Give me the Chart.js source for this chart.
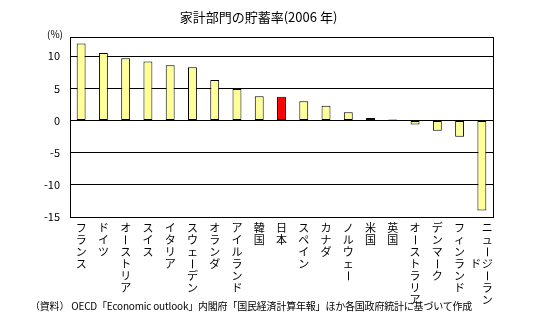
<!DOCTYPE html>
<html lang="ja">
<head>
<meta charset="utf-8">
<title>家計部門の貯蓄率</title>
<script src="https://cdn.jsdelivr.net/npm/chart.js@4.4.1/dist/chart.umd.min.js"></script>
<style>
  html, body { margin: 0; padding: 0; background: #fff; }
  #wrap { position: relative; width: 537px; height: 328px; font-family: "Noto Sans CJK JP", sans-serif; color: #000; }
  #title { position: absolute; left: 0; width: 517px; top: 8px; text-align: center; font-size: 13px; line-height: 18px; }
  #note { position: absolute; left: 30px; top: 299px; font-size: 10px; line-height: 14px; white-space: nowrap; letter-spacing: -0.2px; }
  canvas { position: absolute; left: 0; top: 0; }
</style>
</head>
<body>
<div id="wrap">
  <canvas id="savingChart" width="537" height="328"></canvas>
  <div id="title">家計部門の貯蓄率(2006 年)</div>
  <div id="note">（資料） OECD「Economic outlook」内閣府「国民経済計算年報」ほか各国政府統計に基づいて作成</div>
</div>
<script>
const countries = ['フランス', 'ドイツ', 'オーストリア', 'スイス', 'イタリア', 'スウェーデン', 'オランダ', 'アイルランド', '韓国', '日本', 'スペイン', 'カナダ', 'ノルウェー', '米国', '英国', 'オーストラリア', 'デンマーク', 'フィンランド', 'ニュージーランド'];
const savingRate = [12.0, 10.5, 9.7, 9.2, 8.6, 8.3, 6.3, 4.9, 3.8, 3.7, 3.0, 2.3, 1.3, 0.4, 0.15, -0.6, -1.6, -2.5, -14.0];
const yTicks = [-15, -10, -5, 0, 5, 10];
const yMin = -15;
const yMax = 13;
const highlight = '日本';

const barColors = countries.map(c => c === highlight ? '#ff0000' : '#ffff99');

// vertical category labels, one character per row; long names wrap into a second column
const verticalLabels = {
  id: 'verticalLabels',
  afterDraw(chart) {
    const { ctx, chartArea, scales: { x, y } } = chart;
    ctx.save();
    ctx.fillStyle = '#000';
    ctx.font = '11px "Noto Sans CJK JP"';
    ctx.textAlign = 'center';
    ctx.textBaseline = 'middle';
    const top = 228;
    const step = 12;
    const maxRows = 7;
    const drawChar = (ch, cx, cy) => {
      if (ch === 'ー') {
        ctx.save();
        ctx.translate(cx, cy);
        ctx.rotate(Math.PI / 2);
        ctx.fillText(ch, 0, 0);
        ctx.restore();
      } else {
        ctx.fillText(ch, cx, cy);
      }
    };
    countries.forEach((name, i) => {
      const cx = x.getPixelForValue(i);
      const chars = Array.from(name);
      if (chars.length <= maxRows) {
        chars.forEach((ch, k) => drawChar(ch, cx, top + k * step));
      } else {
        const first = chars.slice(0, maxRows);
        const rest = chars.slice(maxRows);
        first.forEach((ch, k) => drawChar(ch, cx + 5.5, top + k * step));
        const offset = Math.floor((maxRows - rest.length) / 2);
        rest.forEach((ch, k) => drawChar(ch, cx - 6, top + (offset + k) * step));
      }
    });

    // unit label and right edge of the frame
    ctx.textAlign = 'right';
    ctx.font = '10px "Noto Sans CJK JP"';
    ctx.fillText('(%)', 63, y.getPixelForValue(yMax) - 3);
    ctx.strokeStyle = '#000';
    ctx.lineWidth = 1;
    ctx.beginPath();
    ctx.moveTo(Math.round(chartArea.right) + 0.5, chartArea.top);
    ctx.lineTo(Math.round(chartArea.right) + 0.5, chartArea.bottom);
    ctx.stroke();
    ctx.restore();
  }
};

new Chart(document.getElementById('savingChart'), {
  type: 'bar',
  data: {
    labels: countries,
    datasets: [{
      data: savingRate,
      backgroundColor: barColors,
      borderColor: '#000',
      borderWidth: 1,
      borderSkipped: false,
      barPercentage: 0.4,
      categoryPercentage: 1
    }]
  },
  options: {
    responsive: false,
    animation: false,
    layout: { padding: { top: 37, right: 44, bottom: 111, left: 0 } },
    plugins: {
      legend: { display: false },
      title: { display: false },
      tooltip: { enabled: false }
    },
    scales: {
      x: {
        afterFit(scale) { scale.height = 0; },
        grid: { display: false },
        border: { display: true, color: '#000', width: 1 },
        ticks: { display: false }
      },
      y: {
        min: yMin,
        max: yMax,
        afterFit(scale) { scale.width = 70; },
        afterBuildTicks(scale) {
          scale.ticks = yTicks.concat([yMax]).map(v => ({ value: v }));
        },
        grid: { color: '#000', lineWidth: 1, drawTicks: false },
        border: { display: true, color: '#000', width: 1 },
        ticks: {
          padding: 10,
          color: '#000',
          font: { family: '"Noto Sans CJK JP"', size: 11 },
          callback: v => (yTicks.includes(v) ? String(v) : '')
        }
      }
    }
  },
  plugins: [verticalLabels]
});
</script>
</body>
</html>
